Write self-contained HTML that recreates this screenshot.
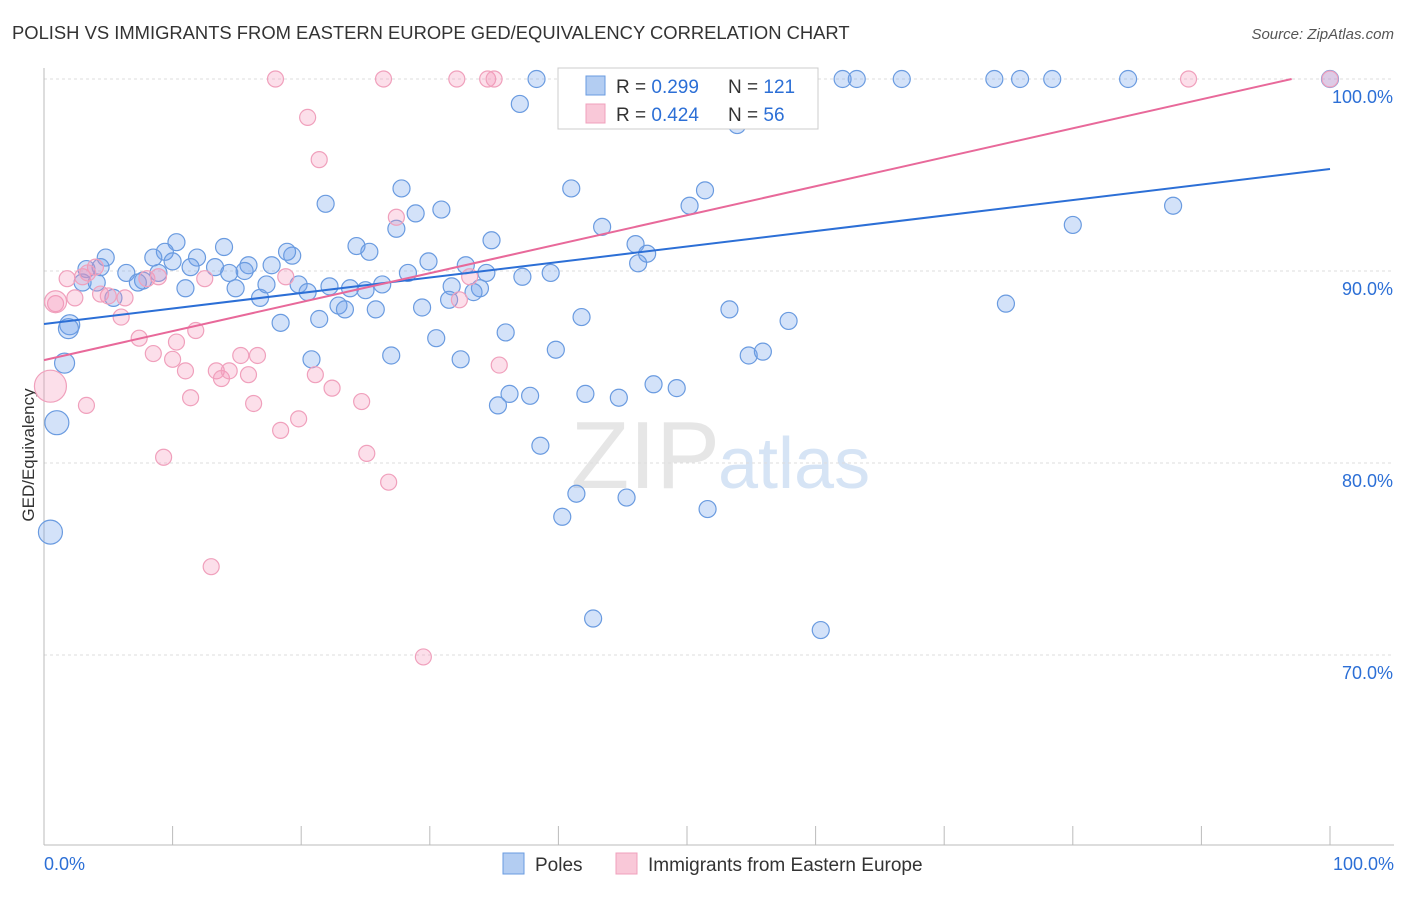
<!DOCTYPE html>
<html><head><meta charset="utf-8"><style>
body{margin:0;background:#fff;font-family:"Liberation Sans",sans-serif;}
svg text{font-family:"Liberation Sans",sans-serif;}
</style></head><body>
<svg id="chart" width="1406" height="892">
<text x="12" y="39" font-size="18.4" fill="#333">POLISH VS IMMIGRANTS FROM EASTERN EUROPE GED/EQUIVALENCY CORRELATION CHART</text>
<text x="1394" y="39" font-size="15" fill="#555" font-style="italic" text-anchor="end">Source: ZipAtlas.com</text>
<text x="720" y="488" font-size="96" fill="#e6e6e6" text-anchor="end" font-family="Liberation Serif">ZIP</text>
<text x="718" y="488" font-size="72" fill="#d6e4f5">atlas</text>
<text transform="translate(34,455) rotate(-90)" font-size="17" fill="#333" text-anchor="middle">GED/Equivalency</text>
<g id="grid"></g><g id="pts"></g><g id="lines"></g>
<g>
<rect x="558" y="68" width="260" height="61" fill="#fff" stroke="#ccc"/>
<rect x="586" y="76" width="19" height="19" fill="#b3cdf2" stroke="#6a9be0"/>
<rect x="586" y="104" width="19" height="19" fill="#f9c8d8" stroke="#f0a0bc"/>
<text x="616" y="93" font-size="19" fill="#333">R = <tspan fill="#2c6fd6">0.299</tspan><tspan x="728">N = </tspan><tspan fill="#2c6fd6">121</tspan></text>
<text x="616" y="121" font-size="19" fill="#333">R = <tspan fill="#2c6fd6">0.424</tspan><tspan x="728">N = </tspan><tspan fill="#2c6fd6"> 56</tspan></text>
</g>
<g>
<rect x="503" y="853" width="21" height="21" fill="#b3cdf2" stroke="#6a9be0"/>
<text x="535" y="871" font-size="19" fill="#333">Poles</text>
<rect x="616" y="853" width="21" height="21" fill="#f9c8d8" stroke="#f0a0bc"/>
<text x="648" y="871" font-size="19" fill="#333">Immigrants from Eastern Europe</text>
</g>
</svg>
<script>
const yTicks=[100,90,80,70];
const yTickLabels=["100.0%","90.0%","80.0%","70.0%"];
const xTickLabels=["0.0%","100.0%"];
const blueX=[38.3,62.1,63.2,66.7,73.9,75.9,78.4,84.3,100,47.9,50.2,54.5,37.0,53.9,27.8,41.0,21.9,28.9,30.9,51.4,50.2,87.8,80.0,43.4,27.4,34.8,24.3,25.3,46.0,46.9,10.3,14.0,9.4,4.8,8.5,11.9,19.3,18.9,17.7,15.9,13.3,11.4,10.0,3.3,4.4,6.4,8.9,14.4,15.6,29.9,32.8,34.4,37.2,39.4,46.2,28.3,3.0,4.1,7.7,7.3,5.4,11.0,14.9,16.8,17.3,19.8,20.5,22.2,23.8,25.0,26.3,31.7,33.9,33.4,31.5,22.9,23.4,25.8,29.4,21.4,18.4,35.9,41.8,53.3,57.9,74.8,2.0,1.9,30.5,39.8,27.0,20.8,32.4,54.8,55.9,1.6,36.2,35.3,37.8,42.1,44.7,47.4,49.2,1.0,38.6,41.4,45.3,40.3,51.6,0.5,42.7,60.4];
const blueY=[100,100,100,100,100,100,100,100,100,100,100,100,98.7,97.6,94.3,94.3,93.5,93.0,93.2,94.2,93.4,93.4,92.4,92.3,92.2,91.6,91.3,91.0,91.4,90.9,91.5,91.25,91.0,90.7,90.7,90.7,90.8,91.0,90.3,90.3,90.2,90.2,90.5,90.1,90.2,89.9,89.9,89.9,90.0,90.5,90.3,89.9,89.7,89.9,90.4,89.9,89.4,89.4,89.5,89.4,88.6,89.1,89.1,88.6,89.3,89.3,88.9,89.2,89.1,89.0,89.3,89.2,89.1,88.9,88.5,88.2,88.0,88.0,88.1,87.5,87.3,86.8,87.6,88.0,87.4,88.3,87.2,87.0,86.5,85.9,85.6,85.4,85.4,85.6,85.8,85.2,83.6,83.0,83.5,83.6,83.4,84.1,83.9,82.1,80.9,78.4,78.2,77.2,77.6,76.4,71.9,71.3];
const pinkX=[18.0,26.4,32.1,34.5,35.0,49.9,89.0,100,20.5,21.4,27.4,3.0,1.8,4.0,3.4,4.4,2.4,0.9,5.0,6.3,8.0,8.9,12.5,18.8,33.1,6.0,11.8,7.4,10.3,8.5,10.0,15.3,16.6,11.0,13.4,13.8,14.4,15.9,21.1,22.4,11.4,16.3,3.3,24.7,19.8,18.4,25.1,9.3,26.8,13.0,29.5,32.3,35.4,0.5,0.9];
const pinkY=[100,100,100,100,100,100,100,100,98.0,95.8,92.8,89.7,89.6,90.2,89.9,88.8,88.6,88.3,88.7,88.6,89.6,89.7,89.6,89.7,89.7,87.6,86.9,86.5,86.3,85.7,85.4,85.6,85.6,84.8,84.8,84.4,84.8,84.6,84.6,83.9,83.4,83.1,83.0,83.2,82.3,81.7,80.5,80.3,79.0,74.6,69.9,88.5,85.1,84.0,88.4];
const blueTrend=[87.24,95.31];
const pinkTrend=[85.36,100.45];
const NS="http://www.w3.org/2000/svg";
const X=v=>44+v*12.86, Y=v=>79+(100-v)*19.2;
function mk(tag,attrs,parent){const e=document.createElementNS(NS,tag);for(const k in attrs)e.setAttribute(k,attrs[k]);document.getElementById(parent).appendChild(e);return e;}
yTicks.forEach((t,i)=>{
 const g=mk('line',{x1:44,x2:1394,y1:Y(t),y2:Y(t),stroke:'#ddd','stroke-dasharray':'3,3'},'grid');
 
 
 const l=mk('text',{x:1393,y:Y(t)+24,'font-size':18,fill:'#2c6fd6','text-anchor':'end'},'grid');
 l.textContent=yTickLabels[i];
 
 
});
const ax=mk('line',{x1:44,x2:1394,y1:845,y2:845,stroke:'#bbb'},'grid');


const ay=mk('line',{x1:44,x2:44,y1:68,y2:845,stroke:'#bbb'},'grid');


for(let i=0;i<=10;i++){
 const t=mk('line',{x1:X(i*10),x2:X(i*10),y1:826,y2:845,stroke:'#bbb'},'grid');
 
 
}
[[0,'start',44],[100,'end',1394]].forEach((d,i)=>{
 const l=mk('text',{x:d[2],y:870,'font-size':18,fill:'#2c6fd6','text-anchor':d[1]},'grid');
 l.textContent=xTickLabels[i];
 
 
});
function big(x,y){if(x<2.2&&(y<86||y<88&&x<2.1))return x<1.2?12:10;return 8.5;}
blueX.forEach((x,i)=>{
 const c=mk('circle',{cx:X(x),cy:Y(blueY[i]),r:big(x,blueY[i]),fill:'rgba(110,160,235,0.3)',stroke:'#6a9be0','stroke-width':1.2},'pts');
 
 
});
pinkX.forEach((x,i)=>{
 let r=8; if(i===pinkX.length-2)r=16; if(i===pinkX.length-1)r=11;
 const c=mk('circle',{cx:X(x),cy:Y(pinkY[i]),r:r,fill:'rgba(245,150,185,0.3)',stroke:'#f0a0bc','stroke-width':1.2},'pts');
 
 
});
const bl=mk('line',{x1:X(0),y1:Y(blueTrend[0]),x2:X(100),y2:Y(blueTrend[1]),stroke:'#2c6fd6','stroke-width':2},'lines');


const xe=(100-pinkTrend[0])/(pinkTrend[1]-pinkTrend[0])*100;
const pl=mk('line',{x1:X(0),y1:Y(pinkTrend[0]),x2:X(xe),y2:Y(100),stroke:'#e8699a','stroke-width':2},'lines');


</script>
</body></html>
